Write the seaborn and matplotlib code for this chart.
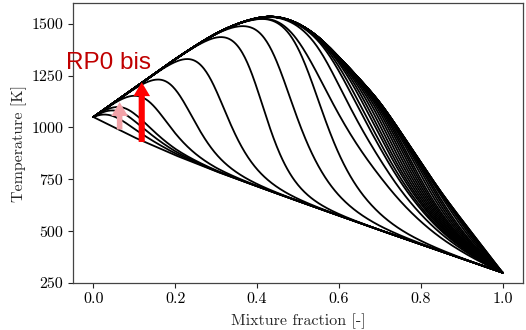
import numpy as np
import pandas as pd
import matplotlib
matplotlib.use("Agg")
import matplotlib.pyplot as plt
import seaborn as sns

# ---- data ----
# equilibrium (upper envelope)
z_eq = [0.0, 0.1, 0.2, 0.25, 0.3, 0.35, 0.4, 0.43, 0.46, 0.5, 0.55, 0.6, 0.65, 0.7, 0.75, 0.8, 0.85, 0.9, 0.95, 1.0]
T_eq = [1050, 1190, 1330, 1395, 1455, 1500, 1530, 1538, 1532, 1505, 1440, 1340, 1235, 1125, 980, 832, 685, 555, 428, 300]
# frozen mixing (lower envelope)
z_mix = [0.0, 0.1, 0.2, 0.3, 0.4, 0.5, 0.6, 0.7, 0.8, 0.9, 1.0]
T_mix = [1050, 952, 866, 788, 716, 645, 575, 505, 437, 368, 300]
# flamelets: mixture fraction where each one leaves the equilibrium curve,
# and how long its rich-side tail is
flame_drop = [0.023, 0.057, 0.079, 0.137, 0.208, 0.291, 0.393, 0.446, 0.517, 0.493,
              0.56, 0.597, 0.613, 0.631, 0.645, 0.66, 0.675, 0.69, 0.705, 0.72, 0.735,
              0.75, 0.77, 0.79, 0.81, 0.83, 0.86, 0.89, 0.92, 0.96, 1.0, 1.05]
flame_tail = [1.5, 1.5, 1.5, 1.5, 1.5, 1.6, 1.5, 2.5, 3.0] + [8.0] * 23
flame_width = 0.03

xticks = [0.0, 0.2, 0.4, 0.6, 0.8, 1.0]
yticks = [250, 500, 750, 1000, 1250, 1500]

# ---- build curves ----
Z = np.linspace(0, 1, 501)
teq = np.interp(Z, z_eq, T_eq)
k = np.exp(-0.5 * (np.arange(-30, 31) / 10.0) ** 2)
k /= k.sum()
teq = np.convolve(np.pad(teq, 30, mode="reflect", reflect_type="odd"), k, mode="valid")
tmix = np.interp(Z, z_mix, T_mix)

rows = []
rows.append(pd.DataFrame({"Z": Z, "T": tmix, "curve": -2}))
for i, (c, nu) in enumerate(zip(flame_drop, flame_tail)):
    x = np.clip((Z - c) / flame_width, -50, 50)
    s = (1.0 + np.exp(x)) ** (-1.0 / nu)
    rows.append(pd.DataFrame({"Z": Z, "T": tmix + (teq - tmix) * s, "curve": i}))
rows.append(pd.DataFrame({"Z": Z, "T": teq, "curve": -1}))
df = pd.concat(rows, ignore_index=True)

# ---- style ----
sns.set_theme(style="ticks")
plt.rcParams["font.family"] = ["cmr10", "DejaVu Serif"]
plt.rcParams["axes.formatter.use_mathtext"] = True
plt.rcParams["mathtext.fontset"] = "cm"

fig = plt.figure(figsize=(5.26, 3.30), dpi=100)
ax = fig.add_axes([73 / 526, 47 / 330, 450 / 526, 280 / 330])

sns.lineplot(data=df, x="Z", y="T", units="curve", estimator=None, sort=False,
             color="black", lw=1.3, legend=False, ax=ax)

ax.set_xlim(-0.05, 1.05)
ax.set_ylim(250, 1600)
ax.set_xticks(xticks)
ax.set_yticks(yticks)
ax.set_xticklabels([f"{v:.1f}" for v in xticks])
ax.set_yticklabels([str(v) for v in yticks])
ax.set_xlabel("Mixture fraction [-]", fontsize=11.5, labelpad=5)
ax.set_ylabel("Temperature [K]", fontsize=11.5, labelpad=3)
ax.tick_params(axis="both", labelsize=11.5, length=3.5, width=0.8, colors="#222222", labelcolor="black")
for sp in ax.spines.values():
    sp.set_color("#444444")
    sp.set_linewidth(0.9)

# annotations
ax.annotate("", xy=(0.064, 1122), xytext=(0.064, 990),
            arrowprops=dict(arrowstyle="simple,head_length=0.5,head_width=0.6,tail_width=0.2",
                            mutation_scale=20, color="#f2a2a8", lw=0, shrinkA=0, shrinkB=0))
ax.annotate("", xy=(0.118, 1218), xytext=(0.118, 930),
            arrowprops=dict(arrowstyle="simple,head_length=0.5,head_width=0.6,tail_width=0.22",
                            mutation_scale=20, color="#ff0000", lw=0, shrinkA=0, shrinkB=0))
ax.text(-0.066, 1284, "RP0 bis", color="#c00000", fontsize=17.5,
        family=["Liberation Sans", "DejaVu Sans"], ha="left", va="baseline")

fig.savefig("out.png", dpi=100)
